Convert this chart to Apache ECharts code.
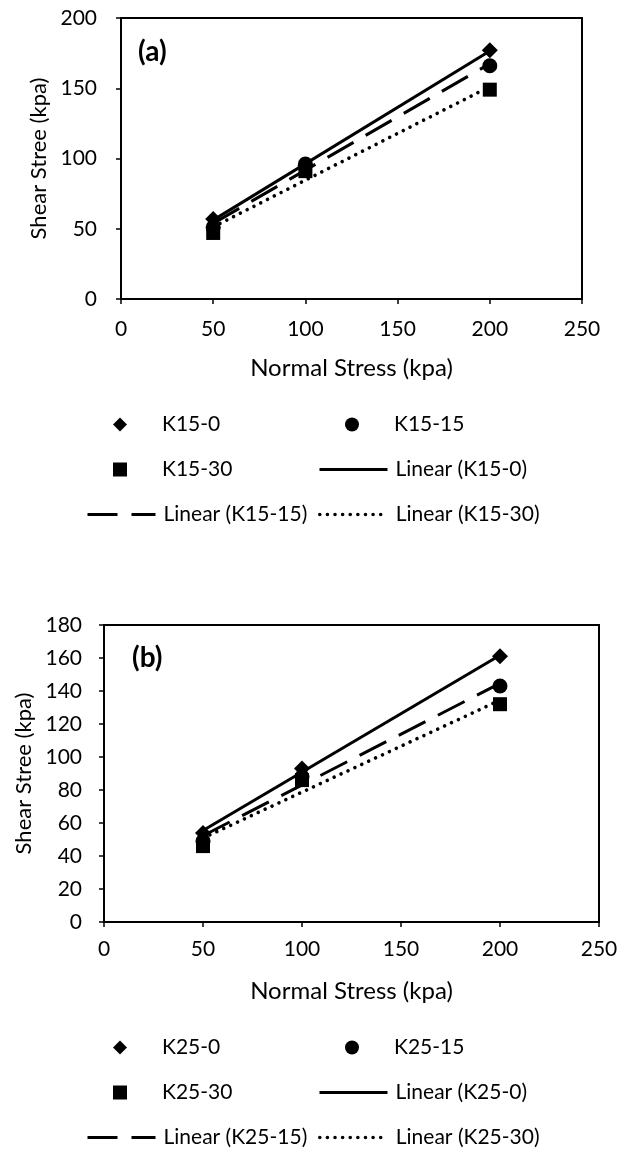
<!DOCTYPE html>
<html>
<head>
<meta charset="utf-8">
<script src="https://cdn.jsdelivr.net/npm/echarts@6/dist/echarts.min.js"></script>
<style>
html,body{margin:0;padding:0;background:#fff;}
#c{width:629px;height:1150px;}
</style>
</head>
<body>
<div id="c"></div>
<script>
// ---- data ----
const normalStress = [50, 100, 200];
const xTicks = [0, 50, 100, 150, 200, 250];
const namesA = ['K15-0', 'K15-15', 'K15-30'];
const namesB = ['K25-0', 'K25-15', 'K25-30'];
const k15_0 = [57, 95, 177];
const k15_15 = [51, 96, 166];
const k15_30 = [47, 91, 149];
const k25_0 = [54, 93, 161];
const k25_15 = [49, 88, 143];
const k25_30 = [46, 86, 132];
const yTicksA = [0, 50, 100, 150, 200];
const yTicksB = [0, 20, 40, 60, 80, 100, 120, 140, 160, 180];

const FONT = 'Lato';
const FS = 21;

function fit(xs, ys) {
  const n = xs.length;
  const mx = xs.reduce((a, b) => a + b, 0) / n;
  const my = ys.reduce((a, b) => a + b, 0) / n;
  let sxy = 0, sxx = 0;
  for (let i = 0; i < n; i++) { sxy += (xs[i] - mx) * (ys[i] - my); sxx += (xs[i] - mx) ** 2; }
  const b = sxy / sxx, a = my - b * mx;
  const x0 = Math.min(...xs), x1 = Math.max(...xs);
  return [[x0, a + b * x0], [x1, a + b * x1]];
}
function pts(ys) { return normalStress.map((x, i) => [x, ys[i]]); }

const symbols = ['diamond', 'circle', 'rect'];
const symbolSizes = [16, 15, 14];
const lineTypes = [
  { type: 'solid', width: 3 },
  { type: [30, 14], width: 3 },
  { type: [0.01, 7.6], width: 3.6, cap: 'round' }
];

const grids = [
  { left: 121, top: 18, width: 461, height: 281 },
  { left: 104, top: 625, width: 495, height: 297 }
];

function axisCommon() {
  return {
    axisLine: { show: true, onZero: false, lineStyle: { color: '#000', width: 2 } },
    axisTick: { show: true, length: 5, lineStyle: { color: '#000', width: 1.5 } },
    splitLine: { show: false },
    axisLabel: { color: '#000', fontFamily: FONT, fontSize: FS },
    nameTextStyle: { color: '#000', fontFamily: FONT, fontSize: FS }
  };
}

const xAxis = [0, 1].map(i => Object.assign(axisCommon(), {
  type: 'value', gridIndex: i, min: xTicks[0], max: xTicks[xTicks.length - 1],
  interval: xTicks[1] - xTicks[0],
  name: 'Normal Stress (kpa)', nameLocation: 'middle', nameGap: 57
}));
xAxis.forEach(a => { a.nameTextStyle.fontSize = 24; });
xAxis[0].axisLabel.margin = 20;
xAxis[1].axisLabel.margin = 17;

const yAxis = [
  Object.assign(axisCommon(), {
    type: 'value', gridIndex: 0, min: yTicksA[0], max: yTicksA[yTicksA.length - 1],
    interval: yTicksA[1] - yTicksA[0],
    name: 'Shear Stree (kpa)', nameLocation: 'middle', nameGap: 70
  }),
  Object.assign(axisCommon(), {
    type: 'value', gridIndex: 1, min: yTicksB[0], max: yTicksB[yTicksB.length - 1],
    interval: yTicksB[1] - yTicksB[0],
    name: 'Shear Stree (kpa)', nameLocation: 'middle', nameGap: 65
  })
];
yAxis.forEach(a => { a.nameTextStyle.fontSize = 22; });
yAxis[0].axisLabel.margin = 24;
yAxis[1].axisLabel.margin = 22;

const series = [];
const legends = [];
function addPanel(gi, names, sets, legendTop) {
  sets.forEach((ys, k) => {
    series.push({
      name: names[k], type: 'scatter', xAxisIndex: gi, yAxisIndex: gi,
      symbol: symbols[k], symbolSize: symbolSizes[k], data: pts(ys),
      itemStyle: { color: '#000', opacity: 1 }, z: 2
    });
  });
  sets.forEach((ys, k) => {
    series.push({
      name: 'Linear (' + names[k] + ')', type: 'line', xAxisIndex: gi, yAxisIndex: gi,
      symbol: 'none', data: fit(normalStress, ys),
      itemStyle: { color: '#000', opacity: 0 },
      lineStyle: Object.assign({ color: '#000' }, lineTypes[k]), z: 3
    });
  });
  const allNames = names.concat(names.map(n => 'Linear (' + n + ')'));
  const colX = [120, 352];
  const rowGap = 45;
  allNames.forEach((nm, idx) => {
    const col = idx % 2, row = Math.floor(idx / 2);
    const isLine = idx >= 3;
    const iw = isLine ? 68 : 14;
    const lg = {
      data: [nm], left: colX[col] - iw / 2, top: legendTop + row * rowGap - 11,
      itemWidth: iw, itemHeight: 14, padding: 0, selectedMode: false,
      textStyle: { color: '#000', fontFamily: FONT, fontSize: FS, padding: [0, 0, 0, isLine ? 3 : 30] }
    };
    if (isLine) {
      lg.lineStyle = Object.assign({ color: '#000' }, lineTypes[idx - 3]);
      lg.itemStyle = { opacity: 0 };
    } else {
      lg.itemStyle = { color: '#000', opacity: 1 };
    }
    legends.push(lg);
  });
}
addPanel(0, namesA, [k15_0, k15_15, k15_30], 425);
addPanel(1, namesB, [k25_0, k25_15, k25_30], 1048);

const option = {
  animation: false,
  backgroundColor: '#fff',
  title: [
    { text: '(a)', left: 133, top: 33, textStyle: { fontFamily: FONT, fontSize: 28, fontWeight: 'bold', color: '#000' } },
    { text: '(b)', left: 127, top: 639, textStyle: { fontFamily: FONT, fontSize: 28, fontWeight: 'bold', color: '#000' } }
  ],
  grid: grids.map(g => Object.assign({ show: true, borderColor: '#000', borderWidth: 2, backgroundColor: 'transparent' }, g)),
  xAxis, yAxis, series, legend: legends
};
const chart = echarts.init(document.getElementById('c'), null, { renderer: 'canvas' });
chart.setOption(option);
</script>
</body>
</html>
